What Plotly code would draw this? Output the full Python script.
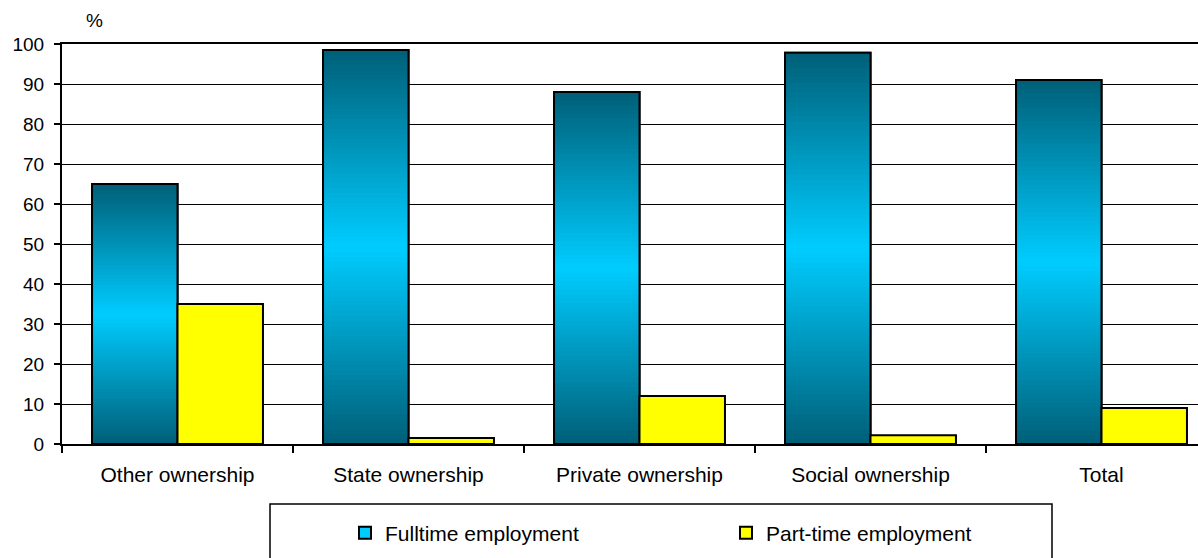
import plotly.graph_objects as go

categories = ["Other ownership", "State ownership", "Private ownership", "Social ownership", "Total"]
fulltime = [65.0, 98.5, 88.0, 97.8, 91.0]
parttime = [35.0, 1.5, 12.0, 2.2, 9.0]
y_ticks = [0, 10, 20, 30, 40, 50, 60, 70, 80, 90, 100]

W, H = 1198, 558
ML, MR, MT, MB = 62, 0, 44, 114
CAT_PX = 231.0
plot_w = W - ML - MR
plot_h = H - MT - MB

FONT = "Liberation Sans, Arial, sans-serif"
DARK = (0, 95, 120)
BRIGHT = (0, 204, 255)
N = 80

def mix(t):
    return "rgb(%d,%d,%d)" % tuple(round(d + (b - d) * t) for d, b in zip(DARK, BRIGHT))

fig = go.Figure()

# base fulltime bar (legend entry)
fig.add_trace(go.Bar(x=categories, y=fulltime, name="Fulltime employment",
                     offsetgroup="ft", marker=dict(color="#00ccff", line=dict(color="black", width=2)),
                     showlegend=True))
# gradient: each layer runs from its start level up to the bar top, later layers cover earlier ones
for i in range(N):
    f = (i + 0.5) / N
    t = 1 - abs(2 * f - 1)
    fig.add_trace(go.Bar(x=categories, y=[v * (N - i) / N for v in fulltime],
                         base=[v * i / N for v in fulltime],
                         offsetgroup="ft", marker=dict(color=mix(t), line=dict(width=0)),
                         showlegend=False, hoverinfo="skip"))
# outline
fig.add_trace(go.Bar(x=categories, y=fulltime, offsetgroup="ft",
                     marker=dict(color="rgba(0,0,0,0)", line=dict(color="black", width=2)),
                     showlegend=False, hoverinfo="skip"))
fig.add_trace(go.Bar(x=categories, y=parttime, name="Part-time employment", offsetgroup="pt",
                     marker=dict(color="#ffff00", line=dict(color="black", width=2))))

fig.update_layout(
    width=W, height=H,
    margin=dict(l=ML, r=MR, t=MT, b=MB, pad=0),
    paper_bgcolor="white", plot_bgcolor="white",
    barmode="group", bargap=0.26, bargroupgap=0,
    font=dict(family=FONT, size=19, color="black"),
    showlegend=True,
    legend=dict(orientation="h", x=(345 - ML) / plot_w, xanchor="left",
                y=(444 - 533) / plot_h, yanchor="middle",
                bgcolor="rgba(0,0,0,0)", borderwidth=0,
                entrywidth=336, entrywidthmode="pixels",
                font=dict(size=21, family=FONT, color="black")),
    xaxis=dict(type="category", range=[-0.5, -0.5 + plot_w / CAT_PX],
               tickson="boundaries", ticks="outside", ticklen=7, tickwidth=2, tickcolor="black",
               showline=True, linecolor="black", linewidth=2, mirror=True,
               showgrid=False, tickfont=dict(size=21), ticklabelstandoff=11),
    yaxis=dict(range=[0, 100], tickvals=y_ticks, ticks="outside", ticklen=6, tickwidth=2,
               tickcolor="black", showline=True, linecolor="black", linewidth=2,
               showgrid=True, gridcolor="black", gridwidth=1, zeroline=False,
               tickfont=dict(size=19), ticklabelstandoff=6),
    shapes=[dict(type="rect", xref="paper", yref="paper",
                 x0=(270 - ML) / plot_w, x1=(1052 - ML) / plot_w,
                 y0=(444 - 504) / plot_h, y1=(444 - 600) / plot_h,
                 line=dict(color="black", width=1.5), fillcolor="rgba(0,0,0,0)", layer="below")],
    annotations=[dict(text="%", xref="paper", yref="paper", x=(94.5 - ML) / plot_w,
                      y=(444 - 21) / plot_h, showarrow=False, xanchor="center", yanchor="middle",
                      font=dict(size=19, family=FONT, color="black"))],
)

fig.write_html("out.html", config={"displayModeBar": False},
               post_script="document.body.style.margin='0';document.body.style.overflow='hidden';")
